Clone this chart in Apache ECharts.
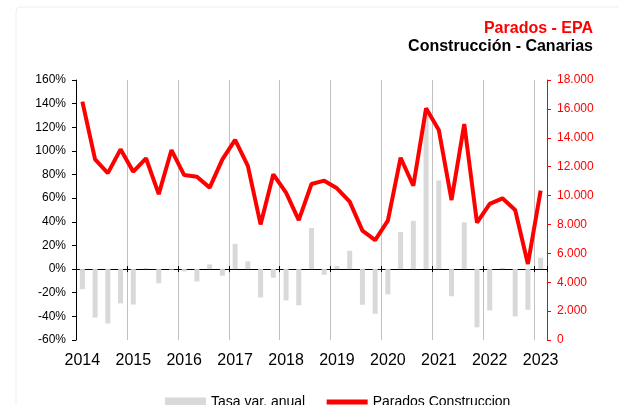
<!DOCTYPE html>
<html>
<head>
<meta charset="utf-8">
<script src="https://cdn.jsdelivr.net/npm/echarts@6/dist/echarts.min.js"></script>
<style>
  html, body { margin: 0; padding: 0; background: #fff; }
  #chart { width: 619px; height: 405px; }
</style>
</head>
<body>
<div id="chart"></div>
<script>
// trimestres 2014T1 .. 2023T1
var years = ['2014', '2015', '2016', '2017', '2018', '2019', '2020', '2021', '2022', '2023'];
var quarters = ['T1', 'T2', 'T3', 'T4'];

// Tasa var. anual (%)
var tasaVar = [-17, -41, -46, -29, -30, 1, -12, -0.5, -2, -10.5, 4, -5.6,
  21.4, 6.5, -24, -7.3, -26.5, -30.7, 34.7, -4.8, 2.5, 15.5, -30.2, -37.8,
  -21.4, 31.3, 40.8, 133, 75, -23, 39.5, -49.3, -35, 1, -40, -34.4, 9.6];

// Parados Construccion (personas)
var parados = [16500, 12500, 11550, 13200, 11650, 12580, 10100, 13150, 11420, 11300, 10550, 12500,
  13850, 12050, 8000, 11470, 10200, 8300, 10800, 11030, 10500, 9580, 7570, 6920,
  8260, 12620, 10680, 16040, 14540, 9690, 14950, 8120, 9420, 9810, 9000, 5260, 10340];

var leftTicks = { min: -60, max: 160, step: 20 };
var rightTicks = { min: 0, max: 18000, step: 2000 };

var categories = [];
years.forEach(function (y) {
  quarters.forEach(function (q) {
    if (categories.length < parados.length) categories.push(y + ' ' + q);
  });
});

var font = 'Liberation Sans, Arial, sans-serif';

function miles(v) {
  return String(v).replace(/\B(?=(\d{3})+(?!\d))/g, '.');
}

var mychart = echarts.init(document.getElementById('chart'));
var option = {
  animation: false,
  textStyle: { fontFamily: font },
  graphic: [{
    type: 'rect',
    shape: { x: 16, y: 7, width: 640, height: 440, r: 4 },
    style: { fill: 'none', stroke: '#eeeeee', lineWidth: 1 },
    silent: true
  }],
  title: [{
    text: 'Parados - EPA',
    right: 21, top: 16,
    textStyle: { color: '#ff0000', fontSize: 16, fontWeight: 'bold', fontFamily: font }
  }, {
    text: 'Construcción - Canarias',
    right: 21, top: 34,
    textStyle: { color: '#000', fontSize: 16, fontWeight: 'bold', fontFamily: font }
  }],
  legend: {
    left: 160, top: 390,
    itemWidth: 41, itemHeight: 9, itemGap: 19,
    textStyle: { fontSize: 14, color: '#000', fontFamily: font },
    data: [
      { name: 'Tasa var. anual', icon: 'rect' },
      { name: 'Parados Construccion', itemStyle: { opacity: 0 }, lineStyle: { width: 5, color: '#ff0000' } }
    ]
  },
  grid: { left: 76, right: 72, top: 80, bottom: 65 },
  xAxis: [{
    // etiquetas de año abajo
    type: 'category',
    data: categories,
    boundaryGap: true,
    position: 'bottom',
    axisLine: { show: false, onZero: false },
    axisTick: { show: false },
    axisLabel: {
      interval: 3, margin: 13, fontSize: 16, color: '#000', fontFamily: font,
      formatter: function (v) { return v.split(' ')[0]; }
    },
    splitLine: { show: true, interval: 3, lineStyle: { color: '#c0c0c0', width: 1 } }
  }, {
    // linea del cero
    type: 'category',
    data: categories,
    boundaryGap: true,
    position: 'bottom',
    axisLine: { show: true, onZero: true, onZeroAxisIndex: 0, lineStyle: { color: '#000', width: 1 } },
    axisTick: { show: true, interval: 3, length: 3, lineStyle: { color: '#000' } },
    axisLabel: { show: false },
    splitLine: { show: false }
  }, {
    type: 'category',
    data: categories,
    boundaryGap: true,
    position: 'bottom',
    axisLine: { show: false, onZero: true, onZeroAxisIndex: 0 },
    axisTick: { show: true, inside: true, interval: 3, length: 3, lineStyle: { color: '#000' } },
    axisLabel: { show: false },
    splitLine: { show: false }
  }],
  yAxis: [{
    type: 'value',
    min: leftTicks.min, max: leftTicks.max, interval: leftTicks.step,
    axisLine: { show: true, lineStyle: { color: '#000' } },
    axisTick: { show: true, length: 4, lineStyle: { color: '#000' } },
    axisLabel: { formatter: '{value}%', fontSize: 12, color: '#000', margin: 10, fontFamily: font },
    splitLine: { show: false }
  }, {
    type: 'value',
    position: 'right',
    min: rightTicks.min, max: rightTicks.max, interval: rightTicks.step,
    axisLine: { show: true, lineStyle: { color: '#ff0000' } },
    axisTick: { show: true, length: 4, lineStyle: { color: '#ff0000' } },
    axisLabel: { formatter: miles, fontSize: 12, color: '#ff0000', margin: 10, fontFamily: font },
    splitLine: { show: false }
  }],
  series: [{
    name: 'Tasa var. anual',
    type: 'bar',
    xAxisIndex: 0,
    yAxisIndex: 0,
    barWidth: 5,
    itemStyle: { color: '#d9d9d9' },
    data: tasaVar
  }, {
    name: 'Parados Construccion',
    type: 'line',
    xAxisIndex: 0,
    yAxisIndex: 1,
    symbol: 'none',
    lineStyle: { color: '#ff0000', width: 4 },
    itemStyle: { color: '#ff0000' },
    data: parados
  }]
};
mychart.setOption(option);
</script>
</body>
</html>
